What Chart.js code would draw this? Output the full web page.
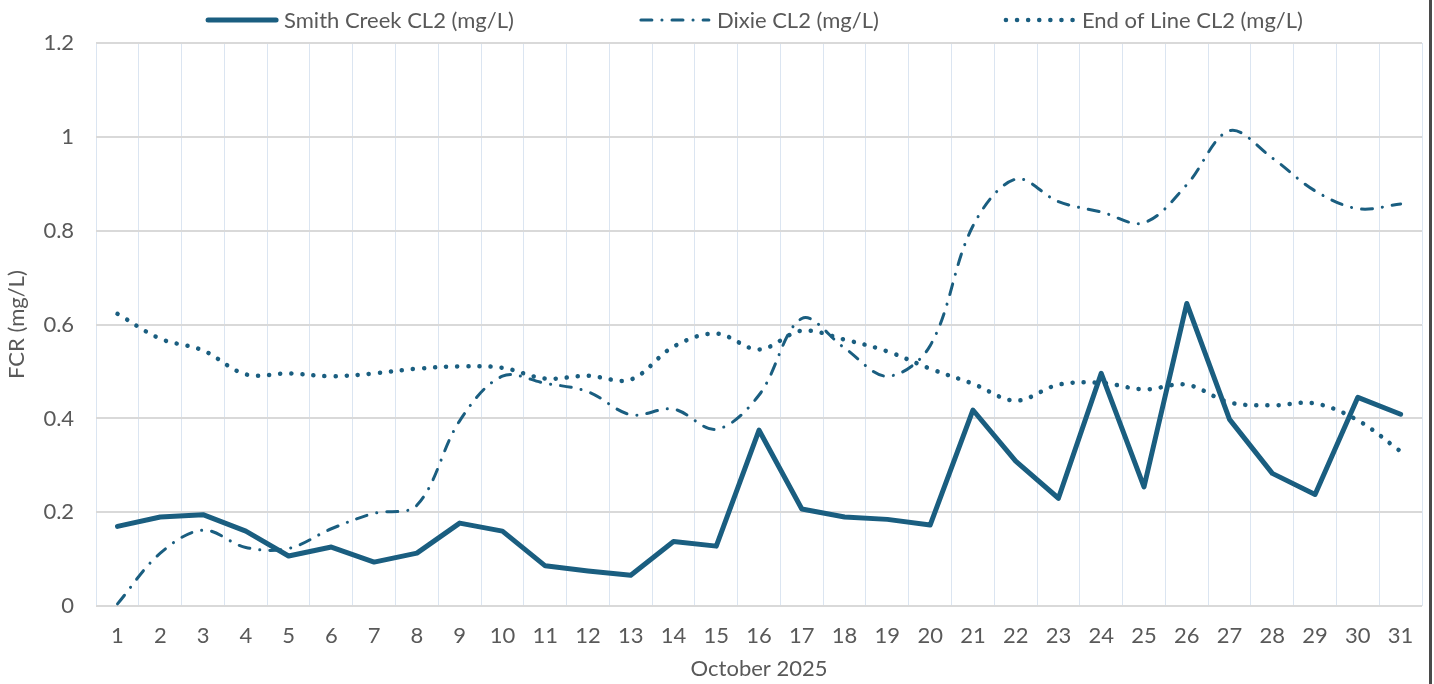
<!DOCTYPE html>
<html>
<head>
<meta charset="utf-8">
<script src="https://cdn.jsdelivr.net/npm/chart.js@4.4.1/dist/chart.umd.min.js"></script>
<style>
    html, body { margin: 0; padding: 0; background: #fff; }
    #wrap { position: relative; width: 1434px; height: 684px; }
    #edge { position: absolute; left: 1429px; top: 0; width: 3px; height: 684px; background: #4a4a4a; }
</style>
</head>
<body>
<div id="wrap">
    <canvas id="grafica" width="1434" height="684"></canvas>
    <div id="edge"></div>
</div>
<script>
const dias = ['1','2','3','4','5','6','7','8','9','10','11','12','13','14','15','16',
              '17','18','19','20','21','22','23','24','25','26','27','28','29','30','31'];

const smithCreek = [0.170, 0.190, 0.195, 0.160, 0.107, 0.126, 0.094, 0.113, 0.177, 0.160,
                    0.086, 0.075, 0.066, 0.138, 0.128, 0.375, 0.207, 0.190, 0.185, 0.173,
                    0.418, 0.309, 0.230, 0.496, 0.254, 0.645, 0.398, 0.283, 0.238, 0.445, 0.409];

const dixie = [0.005, 0.113, 0.162, 0.125, 0.123, 0.165, 0.198, 0.215, 0.395, 0.490,
               0.475, 0.457, 0.408, 0.420, 0.377, 0.450, 0.613, 0.550, 0.490, 0.555,
               0.810, 0.910, 0.862, 0.840, 0.817, 0.898, 1.013, 0.955, 0.885, 0.847, 0.857];

const endOfLine = [0.623, 0.570, 0.545, 0.494, 0.496, 0.490, 0.496, 0.506, 0.511, 0.508,
                   0.485, 0.491, 0.483, 0.553, 0.581, 0.547, 0.587, 0.568, 0.543, 0.506,
                   0.474, 0.438, 0.472, 0.476, 0.462, 0.472, 0.434, 0.428, 0.432, 0.396, 0.330];

const nombres = ['Smith Creek CL2 (mg/L)', 'Dixie CL2 (mg/L)', 'End of Line CL2 (mg/L)'];

const azul = '#1a5e80';
const gris = '#595959';
const fuente = 'Lato, "Open Sans", sans-serif';
const tam = 22;

// leyenda dibujada a mano (el espaciado del original no cabe en la leyenda de Chart.js)
const leyenda = {
    id: 'leyenda',
    afterDraw(chart) {
        const ctx = chart.ctx;
        const muestra = 72, sep = 6, hueco = 125, y = 20;
        ctx.save();
        ctx.font = tam + 'px ' + fuente;
        const items = chart.data.datasets.map(ds => ({ ds, w: ctx.measureText(ds.label).width }));
        const total = items.reduce((s, it) => s + muestra + sep + it.w, 0) + hueco * (items.length - 1);
        let x = 754.5 - total / 2;
        items.forEach(it => {
            ctx.beginPath();
            ctx.strokeStyle = it.ds.borderColor;
            ctx.lineWidth = it.ds.borderWidth;
            ctx.lineCap = it.ds.borderCapStyle || 'butt';
            ctx.setLineDash(it.ds.borderDash || []);
            ctx.moveTo(x + 2, y);
            ctx.lineTo(x + muestra - 2, y);
            ctx.stroke();
            ctx.setLineDash([]);
            ctx.fillStyle = gris;
            ctx.textBaseline = 'middle';
            ctx.textAlign = 'left';
            ctx.fillText(it.ds.label, x + muestra + sep, y + 1);
            x += muestra + sep + it.w + hueco;
        });
        ctx.restore();
    }
};

const ctx = document.querySelector('#grafica').getContext('2d');

new Chart(ctx, {
    type: 'line',
    data: {
        labels: dias,
        datasets: [{
            label: nombres[0],
            data: smithCreek,
            borderColor: azul,
            borderWidth: 5,
            borderCapStyle: 'round',
            borderJoinStyle: 'round',
            tension: 0,
            pointRadius: 0
        }, {
            label: nombres[1],
            data: dixie,
            borderColor: azul,
            borderWidth: 3,
            borderCapStyle: 'round',
            borderDash: [11, 10, 0.1, 10],
            tension: 0.35,
            pointRadius: 0
        }, {
            label: nombres[2],
            data: endOfLine,
            borderColor: azul,
            borderWidth: 4.5,
            borderCapStyle: 'round',
            borderDash: [0.1, 11],
            tension: 0.35,
            pointRadius: 0
        }]
    },
    options: {
        responsive: false,
        animation: false,
        layout: {
            padding: { top: 43, right: 12, left: 4, bottom: 2 }
        },
        scales: {
            x: {
                offset: true,
                grid: { offset: true, color: '#dbe5f1', lineWidth: 1, drawTicks: false },
                border: { display: false },
                ticks: { color: gris, font: { family: fuente, size: tam }, padding: 17, maxRotation: 0, autoSkip: false },
                title: { display: true, text: 'October 2025', color: gris, font: { family: fuente, size: tam }, padding: { top: -11, bottom: 0 } }
            },
            y: {
                min: 0,
                max: 1.2,
                ticks: {
                    stepSize: 0.2, color: gris, font: { family: fuente, size: tam }, padding: 22,
                    callback: v => String(Math.round(v * 10) / 10)
                },
                grid: { color: '#d9d9d9', lineWidth: 2, drawTicks: false },
                border: { display: false },
                title: { display: true, text: 'FCR (mg/L)', color: gris, font: { family: fuente, size: tam }, padding: { top: 0, bottom: -9 } }
            }
        },
        plugins: {
            legend: { display: false },
            tooltip: { enabled: false }
        }
    },
    plugins: [leyenda]
});
</script>
</body>
</html>
